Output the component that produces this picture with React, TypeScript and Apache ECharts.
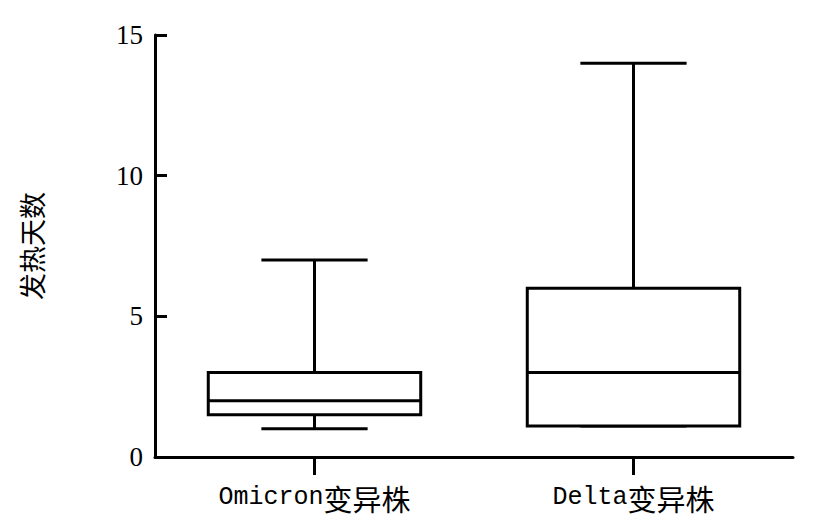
import React, { useEffect, useRef } from "react";
import * as echarts from "echarts";

const categories = ["Omicron变异株", "Delta变异株"];
const minValues = [1, 1.1];
const q1Values = [1.5, 1.1];
const medianValues = [2, 3];
const q3Values = [3, 6];
const maxValues = [7, 14];
const yTicks = { min: 0, max: 15, interval: 5 };
const yName = "发热天数";

export default function App() {
  const ref = useRef<HTMLDivElement>(null);
  useEffect(() => {
    if (!ref.current) return;
    const chart = echarts.init(ref.current, null, { renderer: "svg" });
    const data = categories.map((_, i) => [
      i,
      minValues[i],
      q1Values[i],
      medianValues[i],
      q3Values[i],
      maxValues[i],
    ]);
    const lineStyle = { stroke: "#000", lineWidth: 3, fill: null };
    const option: any = {
      animation: false,
      backgroundColor: "#fff",
      grid: { left: 155, right: 34, top: 35, bottom: 69, containLabel: false },
      xAxis: {
        type: "category",
        data: categories,
        boundaryGap: true,
        axisLine: { show: true, lineStyle: { color: "#000", width: 3 } },
        axisTick: {
          show: true,
          inside: false,
          length: 18,
          alignWithLabel: true,
          lineStyle: { color: "#000", width: 3 },
        },
        axisLabel: {
          margin: 26,
          color: "#000",
          formatter: (v: string) => {
            const m = v.match(/^([A-Za-z]+)(.*)$/);
            return m ? `{a|${m[1]}}{b|${m[2]}}` : v;
          },
          rich: {
            a: { fontFamily: "Liberation Mono", fontSize: 25, color: "#000" },
            b: { fontFamily: "Noto Sans CJK SC", fontSize: 29, color: "#000" },
          },
        },
        splitLine: { show: false },
      },
      yAxis: {
        type: "value",
        min: yTicks.min,
        max: yTicks.max,
        interval: yTicks.interval,
        name: yName,
        nameLocation: "middle",
        nameRotate: 90,
        nameGap: 110,
        nameTextStyle: {
          fontFamily: "Noto Sans CJK SC",
          fontSize: 27,
          color: "#000",
        },
        axisLine: { show: true, lineStyle: { color: "#000", width: 3 } },
        axisTick: {
          show: true,
          inside: true,
          length: 12,
          lineStyle: { color: "#000", width: 3 },
        },
        axisLabel: {
          margin: 12,
          color: "#000",
          fontFamily: "Liberation Serif",
          fontSize: 27,
        },
        splitLine: { show: false },
      },
      series: [
        {
          type: "custom",
          data,
          encode: { x: 0, y: [1, 2, 3, 4, 5] },
          renderItem: (params: any, api: any) => {
            const idx = api.value(0);
            const pMin = api.coord([idx, api.value(1)]);
            const pQ1 = api.coord([idx, api.value(2)]);
            const pMed = api.coord([idx, api.value(3)]);
            const pQ3 = api.coord([idx, api.value(4)]);
            const pMax = api.coord([idx, api.value(5)]);
            const band = api.size([1, 0])[0];
            const halfBox = band * 0.333;
            const halfCap = halfBox / 2;
            const cx = pMed[0];
            return {
              type: "group",
              children: [
                {
                  type: "line",
                  shape: { x1: cx, y1: pQ3[1], x2: cx, y2: pMax[1] },
                  style: lineStyle,
                },
                {
                  type: "line",
                  shape: { x1: cx - halfCap, y1: pMax[1], x2: cx + halfCap, y2: pMax[1] },
                  style: lineStyle,
                },
                {
                  type: "line",
                  shape: { x1: cx, y1: pQ1[1], x2: cx, y2: pMin[1] },
                  style: lineStyle,
                },
                {
                  type: "line",
                  shape: { x1: cx - halfCap, y1: pMin[1], x2: cx + halfCap, y2: pMin[1] },
                  style: lineStyle,
                },
                {
                  type: "rect",
                  shape: {
                    x: cx - halfBox,
                    y: pQ3[1],
                    width: halfBox * 2,
                    height: pQ1[1] - pQ3[1],
                  },
                  style: { stroke: "#000", lineWidth: 3, fill: "#fff" },
                },
                {
                  type: "line",
                  shape: { x1: cx - halfBox, y1: pMed[1], x2: cx + halfBox, y2: pMed[1] },
                  style: lineStyle,
                },
              ],
            };
          },
        },
      ],
    };
    chart.setOption(option);
    return () => chart.dispose();
  }, []);
  return (
    <div
      ref={ref}
      style={{ position: "fixed", left: 0, top: 0, width: 827, height: 526 }}
    />
  );
}
